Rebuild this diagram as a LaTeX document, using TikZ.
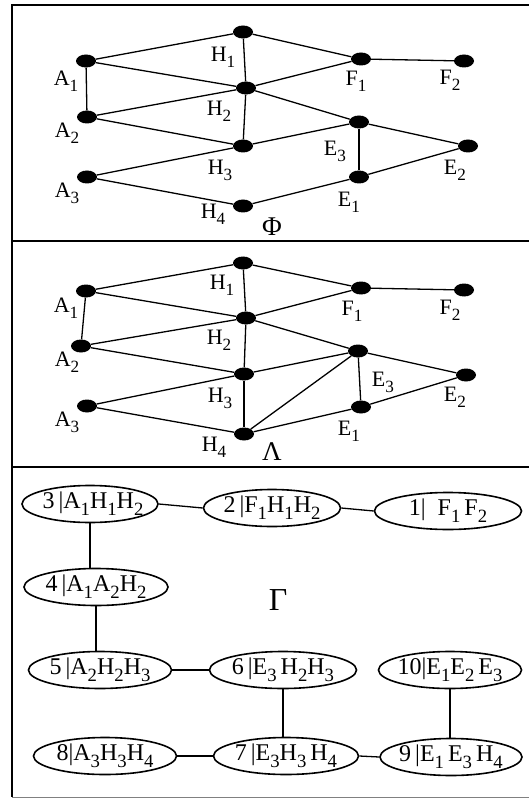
\documentclass[tikz,border=0pt]{standalone}
\usepackage{fontspec}
\usepackage{graphicx}
\setmainfont{Liberation Serif}
\usetikzlibrary{shapes.geometric}
\newcommand{\Sb}[1]{\raisebox{-0.28em}{\scalebox{0.78}{#1}}}
\newcommand{\Ct}[1]{\makebox[0pt]{\raisebox{-0.2em}[0pt][0pt]{#1}}}
\tikzset{
  dot/.style={ellipse,fill=black,draw=none,minimum width=20pt,minimum height=13pt,inner sep=0pt},
  lab/.style={font=\fontsize{22}{22}\selectfont,inner sep=0pt},
  big/.style={font=\fontsize{27}{27}\selectfont,inner sep=0pt},
  edge/.style={line width=1.3pt},
  frame/.style={line width=1.4pt},
  cl/.style={ellipse,draw,line width=1.6pt,minimum height=37pt,inner sep=0pt,font=\fontsize{24}{24}\selectfont},
}
\begin{document}
\begin{tikzpicture}[x=1pt,y=-1pt]
\useasboundingbox (0,0) rectangle (529,799);
% frame
\draw[frame] (529,5) -- (12,5) -- (12,797);
\draw[frame] (12,241) -- (529,241);
\draw[frame] (12,467) -- (529,467);
\draw[line width=0.6pt,gray] (12,797) -- (529,797);

% ---------- panel Phi ----------
\node[dot] (h1) at (243,32) {};
\node[dot] (a1) at (86,61) {};
\node[dot] (f1) at (361,59) {};
\node[dot] (f2) at (464,61) {};
\node[dot] (h2) at (246,88) {};
\node[dot] (a2) at (87,117) {};
\node[dot] (e3) at (359,122) {};
\node[dot] (h3) at (243,146) {};
\node[dot] (e2) at (468,146) {};
\node[dot] (a3) at (87,177) {};
\node[dot] (e1) at (359,177) {};
\node[dot] (h4) at (243,206) {};
\begin{scope}[edge]
\draw (a1)--(h1); \draw (h1)--(f1); \draw (h1)--(h2); \draw (a1)--(h2);
\draw (a1)--(a2); \draw (f1)--(f2); \draw (h2)--(f1); \draw (a2)--(h2);
\draw (h2)--(e3); \draw (a2)--(h3); \draw (h2)--(h3); \draw (h3)--(e3);
\draw (e3)--(e2); \draw (e3)--(e1); \draw (a3)--(h3); \draw (a3)--(h4);
\draw (h4)--(e1); \draw (e1)--(e2);
\end{scope}
\node[lab] (la1) at (66,81) {A\Sb{1}};
\node[lab] (lh1) at (223,57) {H\Sb{1}};
\node[lab] (lf1) at (356,81) {F\Sb{1}};
\node[lab] (lf2) at (450,80) {F\Sb{2}};
\node[lab] (lh2) at (219,111) {H\Sb{2}};
\node[lab] (la2) at (67,133) {A\Sb{2}};
\node[lab] (le3) at (335,151) {E\Sb{3}};
\node[lab] (lh3) at (220,170) {H\Sb{3}};
\node[lab] (le2) at (455,170) {E\Sb{2}};
\node[lab] (la3) at (67,193) {A\Sb{3}};
\node[lab] (le1) at (349,202) {E\Sb{1}};
\node[lab] (lh4) at (213,214) {H\Sb{4}};
\node[big] (phi) at (272,227) {Φ};

% ---------- panel Lambda ----------
\node[dot] (bh1) at (243,263) {};
\node[dot] (ba1) at (86,291) {};
\node[dot] (bf1) at (361,288) {};
\node[dot] (bf2) at (464,290) {};
\node[dot] (bh2) at (246,318) {};
\node[dot] (ba2) at (81,346) {};
\node[dot] (be3) at (358,351) {};
\node[dot] (bh3) at (244,374) {};
\node[dot] (be2) at (466,375) {};
\node[dot] (ba3) at (87,406) {};
\node[dot] (be1) at (361,407) {};
\node[dot] (bh4) at (244,434) {};
\begin{scope}[edge]
\draw (ba1)--(bh1); \draw (bh1)--(bf1); \draw (bh1)--(bh2); \draw (ba1)--(bh2);
\draw (ba1)--(ba2); \draw (bf1)--(bf2); \draw (bh2)--(bf1); \draw (ba2)--(bh2);
\draw (bh2)--(be3); \draw (ba2)--(bh3); \draw (bh2)--(bh3); \draw (bh3)--(be3);
\draw (be3)--(be2); \draw (be3)--(be1); \draw (ba3)--(bh3); \draw (ba3)--(bh4);
\draw (bh4)--(be1); \draw (be1)--(be2); \draw (bh3)--(bh4); \draw (bh4)--(be3);
\end{scope}
\node[lab] (lba1) at (66,308) {A\Sb{1}};
\node[lab] (lbh1) at (222,285) {H\Sb{1}};
\node[lab] (lbf1) at (352,311) {F\Sb{1}};
\node[lab] (lbf2) at (450,310) {F\Sb{2}};
\node[lab] (lbh2) at (219,340) {H\Sb{2}};
\node[lab] (lba2) at (67,362) {A\Sb{2}};
\node[lab] (lbe3) at (383,382) {E\Sb{3}};
\node[lab] (lbh3) at (220,398) {H\Sb{3}};
\node[lab] (lbe2) at (455,397) {E\Sb{2}};
\node[lab] (lba3) at (67,422) {A\Sb{3}};
\node[lab] (lbe1) at (349,431) {E\Sb{1}};
\node[lab] (lbh4) at (214,447) {H\Sb{4}};
\node[big] (lam) at (272,452) {Λ};

% ---------- panel Gamma ----------
\node[cl,minimum width=136pt] (n3) at (90,504) {\Ct{\hspace*{6pt}3\,|A\Sb{1}H\Sb{1}H\Sb{2}}};
\node[cl,minimum width=137pt] (n2) at (272,508) {\Ct{2\,|F\Sb{1}H\Sb{1}H\Sb{2}}};
\node[cl,minimum width=147pt] (n1) at (448,511) {\Ct{1|\ \ F\Sb{1}\,F\Sb{2}}};
\node[cl,minimum width=144pt] (n4) at (96,587) {\Ct{4\,|A\Sb{1}A\Sb{2}H\Sb{2}}};
\node[cl,minimum width=143pt] (n5) at (100,670) {\Ct{5\,|A\Sb{2}H\Sb{2}H\Sb{3}}};
\node[cl,minimum width=147pt] (n6) at (283,670) {\Ct{6\,|E\Sb{3}\,H\Sb{2}H\Sb{3}}};
\node[cl,minimum width=143pt] (n10) at (450,670) {\Ct{10|E\Sb{1}E\Sb{2}\,E\Sb{3}}};
\node[cl,minimum width=143pt] (n8) at (105,756) {\Ct{8|A\Sb{3}H\Sb{3}H\Sb{4}}};
\node[cl,minimum width=145pt] (n7) at (286,756) {\Ct{7\,|E\Sb{3}H\Sb{3}\,H\Sb{4}}};
\node[cl,minimum width=142pt] (n9) at (451,757) {\Ct{9\,|E\Sb{1}\,E\Sb{3}\,H\Sb{4}}};
\node[font=\fontsize{32}{32}\selectfont,inner sep=0pt] (gam) at (278,600) {Γ};
\begin{scope}[edge]
\draw (n3.east) -- (n2.west);
\draw (n2.east) -- (n1.west);
\draw (n3.south) -- (n3.south |- n4.north);
\draw (n4.south) -- (n4.south |- n5.north);
\draw (n5.east) -- (n6.west);
\draw (n6.south) -- (n6.south |- n7.north);
\draw (n10.south) -- (n10.south |- n9.north);
\draw (n8.east) -- (n7.west);
\draw (n7.east) -- (n9.west);
\end{scope}
\end{tikzpicture}
\end{document}
